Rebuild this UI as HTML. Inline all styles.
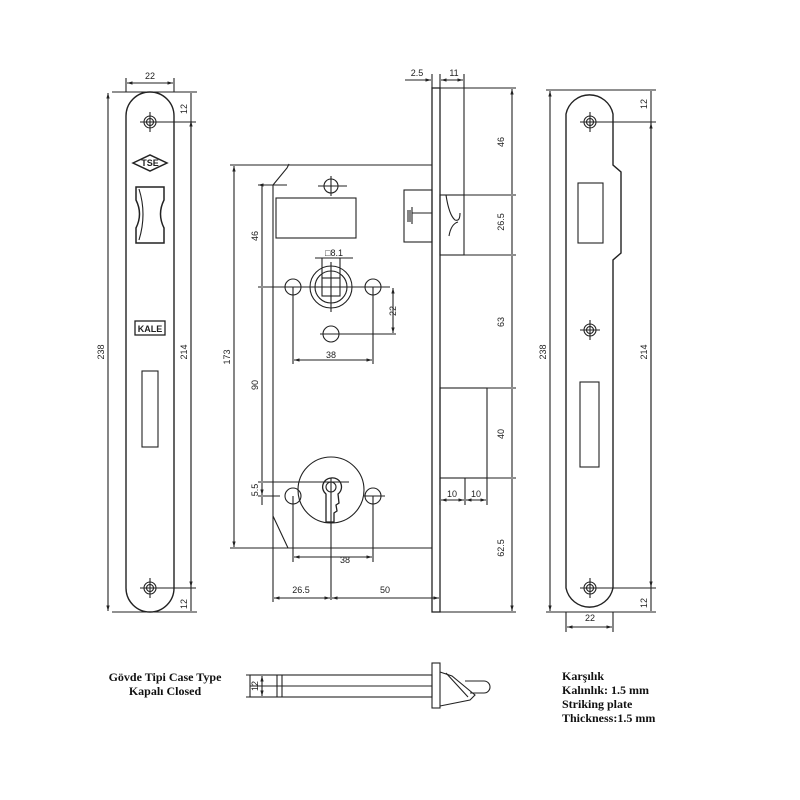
<!DOCTYPE html>
<html><head><meta charset="utf-8"><style>
html,body{margin:0;padding:0;background:#fff}
svg{display:block}
text{font-family:"Liberation Sans",sans-serif;font-size:9px;fill:#222}
.b{font-family:"Liberation Serif",serif;font-weight:bold;font-size:12px;fill:#111}
</style></head><body>
<svg width="800" height="800" viewBox="0 0 800 800" xmlns="http://www.w3.org/2000/svg">
<defs>
<marker id="a" viewBox="0 0 10 10" refX="10" refY="5" markerWidth="5" markerHeight="5" orient="auto-start-reverse"><path d="M0,2 L10,5 L0,8z" fill="#222"/></marker>
</defs>
<g fill="none" stroke="#222" stroke-width="1.1">
<!-- LEFT PLATE -->
<path d="M126,116 A24,24 0 0 1 174,116 L174,588 A24,24 0 0 1 126,588 Z" stroke-width="1.4"/>
<circle cx="150" cy="122" r="6"/><circle cx="150" cy="122" r="3.5"/>
<path d="M140,122H196 M150,112V132"/>
<circle cx="150" cy="588" r="6"/><circle cx="150" cy="588" r="3.5"/>
<path d="M140,588H196 M150,578V598"/>
<path d="M133,163 L150,155 L167,163 L150,171 Z" stroke-width="1.5"/>
<path d="M136,187 H164 V200 Q157,214 164,228 V243 H136 V228 Q143,214 136,200 Z" stroke-width="1.5"/>
<path d="M139,189 Q147,214 139,240" />
<rect x="135" y="321" width="30" height="14" stroke-width="1.3"/>
<rect x="142" y="371" width="16" height="76"/>
<path d="M126,92V78 M174,92V78"/>
<path d="M127,83H173" marker-start="url(#a)" marker-end="url(#a)"/>
<path d="M150,92H112 M150,612H112"/>
<path d="M108,93V611" marker-start="url(#a)" marker-end="url(#a)"/>
<path d="M150,92H197 M150,612H197"/>
<path d="M191,93V611"/>
<path d="M191,121V587" marker-start="url(#a)" marker-end="url(#a)"/>
<!-- MAIN BODY -->
<path d="M287,165 H432 M273,185 L287,168 L289,164 M273,185 V548 M273,516 L288,548 M288,548 H432" />
<rect x="432" y="88" width="8" height="524" stroke-width="1.3"/>
<path d="M440,88H464V195 M440,612H464"/>
<rect x="440" y="195" width="24" height="60"/>
<path d="M446,195 Q449,215 455,220 Q460,222 460,213" />
<path d="M449,236 Q451,224 458,222"/>
<rect x="404" y="190" width="28" height="52"/>
<path d="M412,213H432 M412,207V224 M408,210V222 M410,210V222"/>
<rect x="440" y="388" width="47" height="90"/>
<rect x="276" y="198" width="80" height="40"/>
<circle cx="331" cy="186" r="7"/><path d="M318,186H347 M331,176V196"/>
<circle cx="331" cy="287" r="21"/><circle cx="331" cy="287" r="16"/>
<rect x="322" y="278" width="18" height="18"/>
<path d="M331,262V312 M258,287H390"/>
<circle cx="293" cy="287" r="8"/><circle cx="373" cy="287" r="8"/>
<circle cx="331" cy="334" r="8"/><path d="M320,334H396"/>
<path d="M393,288V333" marker-start="url(#a)" marker-end="url(#a)"/>
<path d="M293,287V364 M373,287V364"/>
<path d="M294,360H372" marker-start="url(#a)" marker-end="url(#a)"/>
<path d="M315,258H353 M322,258V278 M340,258V278"/>
<circle cx="331" cy="490" r="33"/>
<path d="M331,478 A9,9 0 0 1 338,494 L339,503 L336,505 L337,511 L334,513 V522 H326 V494 A9,9 0 0 1 331,478 Z" stroke-width="1.3"/>
<circle cx="331" cy="487" r="5"/>
<path d="M258,482H349 M331,478V600"/>
<circle cx="293" cy="496" r="8"/><circle cx="373" cy="496" r="8"/>
<path d="M258,496H280 M293,496V562 M373,496V562 M364,496H385"/>
<path d="M294,557H372" marker-start="url(#a)" marker-end="url(#a)"/>
<path d="M274,598H330" marker-start="url(#a)" marker-end="url(#a)"/>
<path d="M332,598H439" marker-start="url(#a)" marker-end="url(#a)"/>
<path d="M273,548V602"/>
<path d="M230,165H287 M230,548H288"/>
<path d="M234,166V547" marker-start="url(#a)" marker-end="url(#a)"/>
<path d="M258,185H287 M262,186V286 M262,288V481 M262,483V495" marker-start="url(#a)" marker-end="url(#a)"/>
<path d="M262,497V505"/>
<path d="M432,74V88 M440,74V88 M464,74V88"/>
<path d="M405,80H431" marker-end="url(#a)"/>
<path d="M441,80H463" marker-start="url(#a)" marker-end="url(#a)"/>
<path d="M464,88H516 M464,195H516 M464,255H516 M487,388H516 M487,478H516 M464,612H516"/>
<path d="M512,89V194 M512,196V254 M512,256V387 M512,389V477 M512,479V611" marker-start="url(#a)" marker-end="url(#a)"/>
<path d="M440,478V505 M465,478V505 M487,478V505"/>
<path d="M441,500H464" marker-start="url(#a)" marker-end="url(#a)"/>
<path d="M466,500H486" marker-start="url(#a)" marker-end="url(#a)"/>
<!-- RIGHT PLATE -->
<path d="M566,114 A24,24 0 0 1 613,114 V165 L621,172 V253 L613,260 V588 A24,24 0 0 1 566,588 Z" stroke-width="1.4"/>
<circle cx="590" cy="122" r="6"/><circle cx="590" cy="122" r="3.5"/><path d="M580,122H656 M590,112V132"/>
<circle cx="590" cy="330" r="6"/><circle cx="590" cy="330" r="3.5"/><path d="M580,330H600 M590,320V340"/>
<circle cx="590" cy="588" r="6"/><circle cx="590" cy="588" r="3.5"/><path d="M580,588H656 M590,578V598"/>
<rect x="578" y="183" width="25" height="60"/>
<rect x="580" y="382" width="19" height="85"/>
<path d="M546,90H656 M546,612H656"/>
<path d="M550,91V611" marker-start="url(#a)" marker-end="url(#a)"/>
<path d="M651,91V611"/>
<path d="M651,123V587" marker-start="url(#a)" marker-end="url(#a)"/>
<path d="M566,612V632 M613,612V632"/>
<path d="M567,627H612" marker-start="url(#a)" marker-end="url(#a)"/>
<!-- SIDE VIEW -->
<rect x="250" y="675" width="182" height="22"/>
<path d="M250,686H432 M277,675V697 M282,675V697 M246,675H250 M246,697H250"/>
<path d="M262,676V696" marker-start="url(#a)" marker-end="url(#a)"/>
<rect x="432" y="663" width="8" height="45"/>
<path d="M440,672 L452,676 L475,695 L470,700 L440,706"/>
<path d="M446,673 L468,697"/>
<path d="M465,681H484 A6,6 0 0 1 484,693 H470"/>
</g>
<g text-anchor="middle">
<text x="150" y="79">22</text>
<text x="417" y="76">2.5</text>
<text x="454" y="76">11</text>
<text x="590" y="621">22</text>
<text x="331" y="358">38</text>
<text x="345" y="563">38</text>
<text x="301" y="593">26.5</text>
<text x="385" y="593">50</text>
<text x="452" y="497">10</text>
<text x="476" y="497">10</text>
<text x="334" y="256">□8.1</text>
<text transform="translate(187,109) rotate(-90)">12</text>
<text transform="translate(187,604) rotate(-90)">12</text>
<text transform="translate(104,352) rotate(-90)">238</text>
<text transform="translate(187,352) rotate(-90)">214</text>
<text transform="translate(230,357) rotate(-90)">173</text>
<text transform="translate(258,236) rotate(-90)">46</text>
<text transform="translate(258,385) rotate(-90)">90</text>
<text transform="translate(258,490) rotate(-90)">5.5</text>
<text transform="translate(396,311) rotate(-90)">22</text>
<text transform="translate(504,142) rotate(-90)">46</text>
<text transform="translate(504,222) rotate(-90)">26.5</text>
<text transform="translate(504,322) rotate(-90)">63</text>
<text transform="translate(504,434) rotate(-90)">40</text>
<text transform="translate(504,548) rotate(-90)">62.5</text>
<text transform="translate(546,352) rotate(-90)">238</text>
<text transform="translate(647,352) rotate(-90)">214</text>
<text transform="translate(647,104) rotate(-90)">12</text>
<text transform="translate(647,603) rotate(-90)">12</text>
<text transform="translate(258,686) rotate(-90)">12</text>
<text x="150" y="332" font-size="10" font-weight="bold">KALE</text>
<text x="150" y="166" font-size="7" font-weight="bold">TSE</text>
<text class="b" x="165" y="681">Gövde Tipi Case Type</text>
<text class="b" x="165" y="695">Kapalı Closed</text>
</g>
<text class="b" x="562" y="680">Karşılık</text>
<text class="b" x="562" y="694">Kalınlık: 1.5 mm</text>
<text class="b" x="562" y="708">Striking plate</text>
<text class="b" x="562" y="722">Thickness:1.5 mm</text>
</svg>
</body></html>
